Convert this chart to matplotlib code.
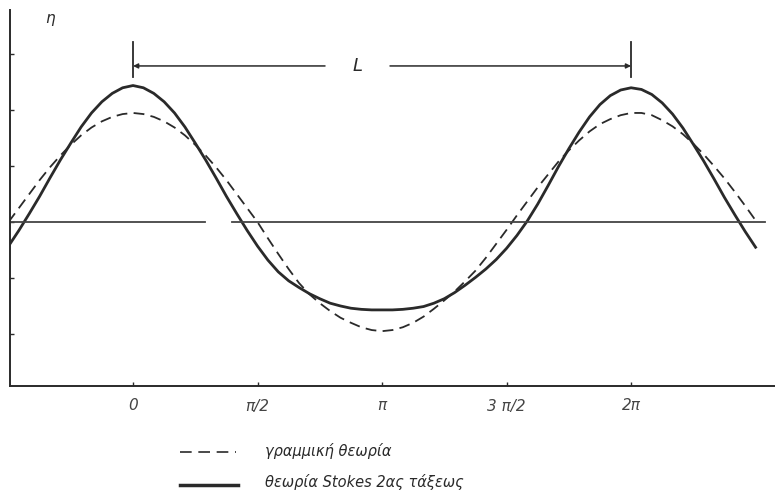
import matplotlib
matplotlib.use("Agg")
import matplotlib.pyplot as plt

# phase in units of pi (x axis), read every pi/24
phase = [-0.5 + i / 24 for i in range(73)]
# linear theory (dashed)
eta_linear = [0.00, 0.25, 0.50, 0.75, 0.98, 1.19, 1.38, 1.55, 1.69, 1.80, 1.88, 1.93,
              1.95, 1.93, 1.88, 1.80, 1.69, 1.55, 1.38, 1.19, 0.98, 0.75, 0.50, 0.25,
              0.00, -0.29, -0.57, -0.84, -1.09, -1.29, -1.45, -1.59, -1.71, -1.80, -1.88, -1.93,
              -1.95, -1.93, -1.88, -1.80, -1.69, -1.55, -1.40, -1.24, -1.06, -0.87, -0.64, -0.39,
              -0.14, 0.12, 0.37, 0.62, 0.85, 1.08, 1.28, 1.46, 1.62, 1.75, 1.84, 1.91,
              1.95, 1.95, 1.91, 1.82, 1.71, 1.57, 1.40, 1.21, 1.00, 0.78, 0.54, 0.29,
              0.03]
# Stokes 2nd order theory (solid)
eta_stokes = [-0.43, -0.15, 0.15, 0.46, 0.79, 1.11, 1.41, 1.70, 1.95, 2.15, 2.30, 2.40,
              2.44, 2.40, 2.30, 2.15, 1.95, 1.70, 1.41, 1.11, 0.79, 0.46, 0.15, -0.15,
              -0.43, -0.68, -0.89, -1.05, -1.17, -1.28, -1.37, -1.45, -1.50, -1.54, -1.56, -1.57,
              -1.57, -1.57, -1.56, -1.54, -1.51, -1.45, -1.37, -1.26, -1.13, -0.99, -0.84, -0.67,
              -0.47, -0.24, 0.02, 0.32, 0.65, 0.99, 1.31, 1.61, 1.88, 2.10, 2.26, 2.36,
              2.40, 2.37, 2.28, 2.13, 1.93, 1.68, 1.39, 1.09, 0.77, 0.44, 0.13, -0.17,
              -0.45]

tick_pos = [0, 0.5, 1, 1.5, 2]
tick_labels = ["0", "π/2", "π", "3 π/2", "2π"]
ytick_pos = [-2, -1, 0, 1, 2, 3]
legend_labels = ["γραμμική θεωρία", "θεωρία Stokes 2ας τάξεως"]

ink = "#2a2a2a"
W, H = 775, 492
fig = plt.figure(figsize=(W / 100, H / 100), dpi=100)
ax = fig.add_axes([10 / W, (H - 386) / H, (W - 10) / W, (386 - 10) / H])

ax.set_xlim(-0.494, 2.578)
ax.set_ylim(-2.93, 3.79)

ax.plot(phase, eta_linear, color=ink, lw=1.3, dashes=(6, 3.5), solid_capstyle="butt")
ax.plot(phase, eta_stokes, color=ink, lw=2.0, solid_joinstyle="round")

# mean water level (hand-drawn with a gap)
ax.plot([-0.494, 0.289], [0, 0], color="#444444", lw=1.3)
ax.plot([0.398, 2.538], [0, 0], color="#444444", lw=1.3)

# wavelength annotation L
for xb in (0, 2):
    ax.plot([xb, xb], [2.59, 3.21], color=ink, lw=1.3)
ax.annotate("", xy=(0, 2.79), xytext=(0.771, 2.79),
            arrowprops=dict(arrowstyle="-|>", color=ink, lw=1.1, mutation_scale=7, shrinkA=0, shrinkB=0))
ax.annotate("", xy=(2, 2.79), xytext=(1.032, 2.79),
            arrowprops=dict(arrowstyle="-|>", color=ink, lw=1.1, mutation_scale=7, shrinkA=0, shrinkB=0))
ax.text(0.90, 2.79, "L", ha="center", va="center", fontsize=13, style="italic", color=ink)

# spines
for s in ("top", "right"):
    ax.spines[s].set_visible(False)
ax.spines["left"].set_color(ink)
ax.spines["bottom"].set_color(ink)
ax.spines["left"].set_linewidth(1.4)
ax.spines["bottom"].set_linewidth(1.4)

ax.set_xticks(tick_pos)
ax.set_xticklabels(tick_labels, fontsize=11, style="italic", color="#444444")
ax.set_yticks(ytick_pos)
ax.set_yticklabels([])
ax.tick_params(axis="both", direction="in", length=3, width=1, color=ink)
ax.tick_params(axis="x", pad=9)

fig.text(50 / W, 1 - 18 / H, "η", fontsize=11, style="italic", color=ink, ha="center", va="center")

# legend drawn by hand below the chart
fig.add_artist(plt.Line2D([180 / W, 236 / W], [1 - 452 / H, 1 - 452 / H], color=ink, lw=1.2,
                          dashes=(7, 4)))
fig.add_artist(plt.Line2D([180 / W, 238 / W], [1 - 485 / H, 1 - 485 / H], color=ink, lw=2.5))
fig.text(265 / W, 1 - 451 / H, legend_labels[0], fontsize=10.5, style="italic", color=ink, va="center")
fig.text(265 / W, 1 - 482 / H, legend_labels[1], fontsize=10.5, style="italic", color=ink, va="center")

fig.savefig("out.png", dpi=100, facecolor="white")
